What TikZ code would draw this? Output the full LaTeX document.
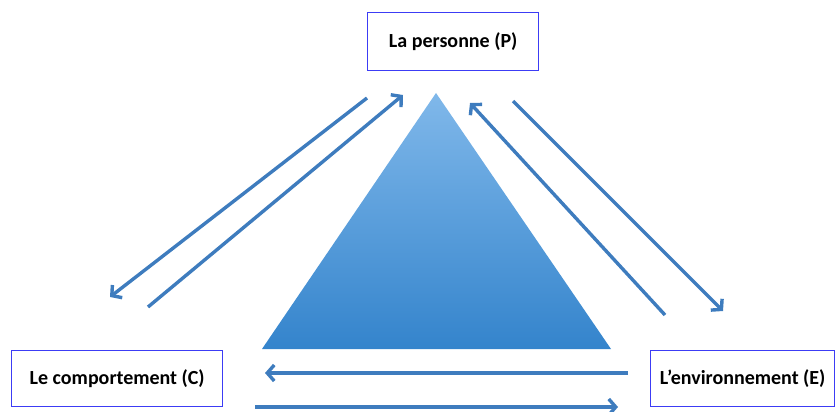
\documentclass[tikz,border=0pt]{standalone}
\usepackage{fontspec}
\setmainfont{Carlito}
\usetikzlibrary{arrows.meta}
\definecolor{arrowblue}{RGB}{62,124,190}
\definecolor{boxblue}{RGB}{60,60,245}
\definecolor{triTop}{RGB}{128,184,234}
\definecolor{triBot}{RGB}{52,132,204}
\tikzset{
  labelbox/.style={draw=boxblue, line width=1.4pt, fill=white, font=\bfseries\fontsize{20}{24}\selectfont, inner sep=0pt, anchor=north west},
  flow/.style={draw=arrowblue, line width=3.4pt, -{Straight Barb[length=7pt,width=16pt,line width=3.4pt]}}
}
\begin{document}
\begin{tikzpicture}[x=1pt,y=-1pt]
\useasboundingbox (0,0) rectangle (836,412);
% boxes
\node[labelbox, minimum width=171pt, minimum height=58pt] (P) at (367,12) {La personne (P)};
\node[labelbox, minimum width=211pt, minimum height=56pt] (C) at (11,350) {Le comportement (C)};
\node[labelbox, minimum width=184pt, minimum height=56pt] (E) at (650,350) {L’environnement (E)};
% triangle
\coordinate (apex) at (436,93);
\coordinate (bl) at (262,349);
\coordinate (br) at (611,349);
\shade[top color=triTop, bottom color=triBot] (apex) -- (br) -- (bl) -- cycle;
% arrow endpoints
\coordinate (a1s) at (367,98);
\coordinate (a1e) at (110,297);
\coordinate (a2s) at (148,307);
\coordinate (a2e) at (403,95);
\coordinate (a3s) at (665,315);
\coordinate (a3e) at (470,103);
\coordinate (a4s) at (513,101);
\coordinate (a4e) at (723,311);
\coordinate (a5s) at (628,373);
\coordinate (a5e) at (265,373);
\coordinate (a6s) at (255,407);
\coordinate (a6e) at (618,407);
\draw[flow] (a1s) -- (a1e);
\draw[flow] (a2s) -- (a2e);
\draw[flow] (a3s) -- (a3e);
\draw[flow] (a4s) -- (a4e);
\draw[flow] (a5s) -- (a5e);
\draw[flow] (a6s) -- (a6e);
\end{tikzpicture}
\end{document}
